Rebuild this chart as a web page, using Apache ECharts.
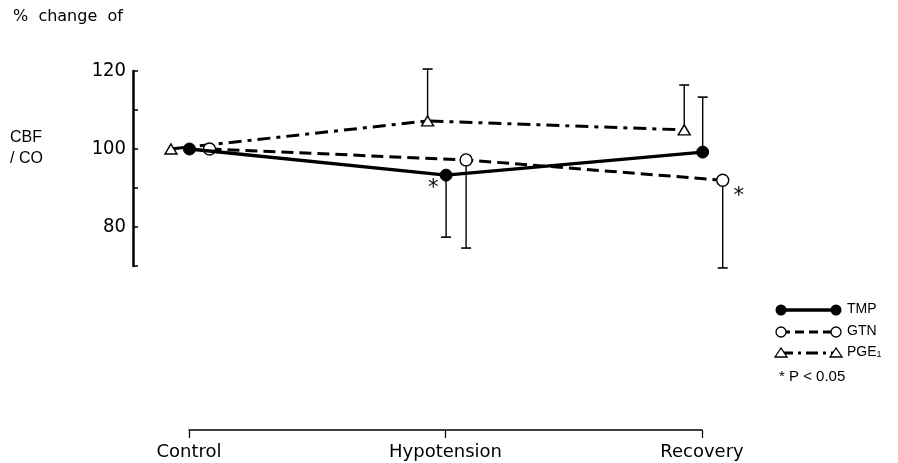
<!DOCTYPE html>
<html lang="en">
<head>
    <meta charset="UTF-8">
    <title>CBF / CO</title>
    <script src="https://cdn.jsdelivr.net/npm/echarts@6/dist/echarts.min.js"></script>
</head>
<body style="margin:0">
<div id="showbox" style="width:898px; height:463px;"></div>
</body>
<script type="text/javascript">
    // phases on the bottom axis
    var phases = ['Control', 'Hypotension', 'Recovery'];
    // % change of CBF/CO
    var tmp = [100, 93.3, 99.2];
    var gtn = [100, 97.2, 92.0];
    var pge = [100, 107.2, 104.9];
    // end of the one-sided error bars (null = no bar)
    var tmpBar = [null, 77.4, 113.3];
    var gtnBar = [null, 74.6, 69.5];
    var pgeBar = [null, 120.5, 116.4];
    // significant points (* P<0.05)
    var tmpSig = [false, true, false];
    var gtnSig = [false, false, true];
    var yLabels = [80, 100, 120];
    var yTicks = [70, 80, 90, 100, 110, 120];

    // the three curves are drawn a little apart around each phase
    var shift = {tmp: 0, gtn: 0.078, pge: -0.072};

    function pts(vals, key, sig, pos) {
        return vals.map(function (v, i) {
            var item = {value: [i + shift[key], v]};
            if (sig && sig[i]) {
                item.label = {
                    show: true, formatter: '*', position: pos.p, offset: pos.o,
                    fontSize: 21, color: '#000', fontFamily: 'DejaVu Sans'
                };
            }
            return item;
        });
    }
    function bars(vals, ends, key) {
        var out = [];
        vals.forEach(function (v, i) {
            if (ends[i] != null) out.push([i + shift[key], v, ends[i]]);
        });
        return out;
    }
    var allBars = bars(tmp, tmpBar, 'tmp').concat(bars(gtn, gtnBar, 'gtn'), bars(pge, pgeBar, 'pge'));

    var chart = echarts.init(document.getElementById('showbox'));
    chart.setOption({
        animation: false,
        backgroundColor: '#fff',
        grid: [
            {left: 133, top: 71, width: 698, height: 195},
            {left: 189, top: 429, width: 513, height: 1}
        ],
        xAxis: [
            {gridIndex: 0, type: 'value', min: -0.22, max: 2.5, show: false},
            {
                gridIndex: 1, type: 'category', data: phases, boundaryGap: false,
                axisLine: {lineStyle: {color: '#000', width: 1.5}},
                axisTick: {length: 8, lineStyle: {color: '#000', width: 1.2}},
                axisLabel: {color: '#000', fontSize: 18, margin: 13, fontFamily: 'DejaVu Sans'}
            }
        ],
        yAxis: [
            {
                gridIndex: 0, type: 'value', min: 70, max: 120,
                splitLine: {show: false},
                axisLine: {show: true, onZero: false, lineStyle: {color: '#000', width: 2.5}},
                axisTick: {show: true, inside: true, length: 5, customValues: yTicks,
                    lineStyle: {color: '#000', width: 1.5}},
                axisLabel: {customValues: yLabels, color: '#000', fontSize: 20, margin: 7,
                    fontFamily: 'DejaVu Sans Condensed'}
            },
            {gridIndex: 1, type: 'value', show: false}
        ],
        graphic: [
            {type: 'text', left: 13, top: 9, style: {text: '%  change  of', fontSize: 16, fill: '#000', fontFamily: 'DejaVu Sans'}},
            {type: 'text', left: 10, top: 127, style: {text: 'CBF\n/ CO', fontSize: 16, lineHeight: 21, fill: '#000', fontFamily: 'Liberation Sans'}},
            // legend
            {type: 'line', shape: {x1: 781, y1: 310, x2: 836, y2: 310}, style: {stroke: '#000', lineWidth: 3.5}},
            {type: 'circle', shape: {cx: 781, cy: 310, r: 5.5}, style: {fill: '#000'}},
            {type: 'circle', shape: {cx: 836, cy: 310, r: 5.5}, style: {fill: '#000'}},
            {type: 'line', shape: {x1: 781, y1: 332, x2: 836, y2: 332}, style: {stroke: '#000', lineWidth: 3, lineDash: [9, 5]}},
            {type: 'circle', shape: {cx: 781, cy: 332, r: 5}, style: {fill: '#fff', stroke: '#000', lineWidth: 1.3}},
            {type: 'circle', shape: {cx: 836, cy: 332, r: 5}, style: {fill: '#fff', stroke: '#000', lineWidth: 1.3}},
            {type: 'line', shape: {x1: 781, y1: 353, x2: 836, y2: 353}, style: {stroke: '#000', lineWidth: 3, lineDash: [12, 5, 3, 5]}},
            {type: 'polygon', shape: {points: [[781, 348], [775, 357], [787, 357]]}, style: {fill: '#fff', stroke: '#000', lineWidth: 1.3}},
            {type: 'polygon', shape: {points: [[836, 348], [830, 357], [842, 357]]}, style: {fill: '#fff', stroke: '#000', lineWidth: 1.3}},
            {type: 'text', left: 847, top: 302, style: {text: 'TMP', fontSize: 14, fill: '#000', fontFamily: 'Liberation Sans'}},
            {type: 'text', left: 847, top: 324, style: {text: 'GTN', fontSize: 14, fill: '#000', fontFamily: 'Liberation Sans'}},
            {type: 'text', left: 847, top: 345, style: {
                text: 'PGE{s|1}', fontSize: 14, fill: '#000', fontFamily: 'Liberation Sans',
                rich: {s: {fontSize: 9, verticalAlign: 'bottom', padding: [6, 0, 0, 0], fontFamily: 'Liberation Sans'}}
            }},
            {type: 'text', left: 779, top: 369, style: {text: '* P < 0.05', fontSize: 15, fill: '#000', fontFamily: 'Liberation Sans'}}
        ],
        series: [
            {
                type: 'custom', xAxisIndex: 0, yAxisIndex: 0, z: 1,
                data: allBars,
                renderItem: function (params, api) {
                    var p0 = api.coord([api.value(0), api.value(1)]);
                    var p1 = api.coord([api.value(0), api.value(2)]);
                    return {
                        type: 'group',
                        children: [
                            {type: 'line', shape: {x1: p0[0], y1: p0[1], x2: p1[0], y2: p1[1]}, style: {stroke: '#000', lineWidth: 1.4}},
                            {type: 'line', shape: {x1: p1[0] - 5, y1: p1[1], x2: p1[0] + 5, y2: p1[1]}, style: {stroke: '#000', lineWidth: 1.6}}
                        ]
                    };
                }
            },
            {
                name: 'PGE1', type: 'line', xAxisIndex: 0, yAxisIndex: 0, z: 3,
                data: pts(pge, 'pge'),
                symbol: 'triangle', symbolSize: [12, 10],
                itemStyle: {color: '#fff', borderColor: '#000', borderWidth: 1.4},
                lineStyle: {color: '#000', width: 3, type: [13, 6, 4, 6]}
            },
            {
                name: 'GTN', type: 'line', xAxisIndex: 0, yAxisIndex: 0, z: 4,
                data: pts(gtn, 'gtn', gtnSig, {p: 'right', o: [-1, 16]}),
                symbol: 'circle', symbolSize: 12,
                itemStyle: {color: '#fff', borderColor: '#000', borderWidth: 1.4},
                lineStyle: {color: '#000', width: 3, type: [12, 6]}
            },
            {
                name: 'TMP', type: 'line', xAxisIndex: 0, yAxisIndex: 0, z: 5,
                data: pts(tmp, 'tmp', tmpSig, {p: 'left', o: [4, 13]}),
                symbol: 'circle', symbolSize: 12,
                itemStyle: {color: '#000', borderColor: '#000', borderWidth: 1},
                lineStyle: {color: '#000', width: 3.5}
            }
        ]
    });
</script>
</html>
